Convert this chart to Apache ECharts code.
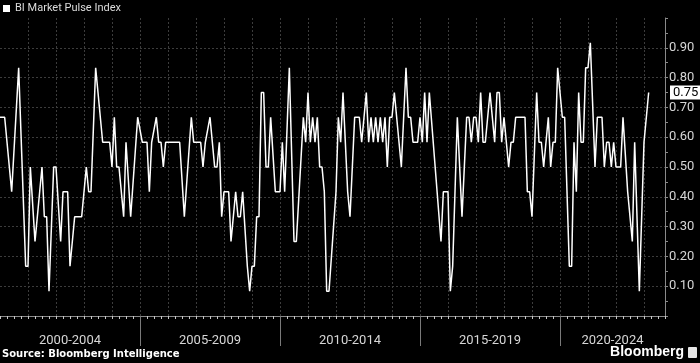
<!DOCTYPE html>
<html><head><meta charset="utf-8">
<script src="https://cdn.jsdelivr.net/npm/echarts@6/dist/echarts.min.js"></script>
<style>html,body{margin:0;padding:0;background:#000;}#c{width:700px;height:363px;}</style>
</head><body><div id="c"></div>
<script>
const seriesName = 'BI Market Pulse Index';
const dates = [
'2000-01','2000-03','2000-06','2000-09','2000-12','2001-01','2001-02','2001-04','2001-07','2001-08','2001-09','2001-10','2001-12',
'2002-01','2002-03','2002-04','2002-06','2002-07','2002-09','2002-12','2003-02','2003-03','2003-04','2003-06','2003-09','2003-12',
'2004-01','2004-02','2004-03','2004-04','2004-06','2004-07','2004-09','2004-12','2005-02','2005-04','2005-05','2005-06','2005-08',
'2005-09','2005-10','2005-11','2005-12','2006-06','2006-08','2006-11','2006-12','2007-03','2007-04','2007-05','2007-07','2007-09',
'2007-10','2007-11','2007-12','2008-01','2008-03','2008-04','2008-06','2008-07','2008-08','2008-09','2008-11','2008-12','2009-01',
'2009-02','2009-03','2009-04','2009-05','2009-06','2009-07','2009-08','2009-09','2009-11','2010-01','2010-02','2010-03','2010-05',
'2010-07','2010-08','2010-11','2010-12','2011-01','2011-02','2011-03','2011-04','2011-05','2011-06','2011-07','2011-08','2011-09',
'2011-10','2012-01','2012-02','2012-03','2012-04','2012-06','2012-07','2012-09','2012-11','2012-12','2013-02','2013-03','2013-04',
'2013-05','2013-06','2013-07','2013-08','2013-09','2013-10','2013-11','2013-12','2014-01','2014-02','2014-05','2014-07','2014-08',
'2014-09','2014-10','2014-12','2015-01','2015-02','2015-03','2015-04','2015-05','2015-10','2015-11','2016-01','2016-02','2016-03',
'2016-05','2016-07','2016-09','2016-10','2016-11','2016-12','2017-01','2017-02','2017-03','2017-04','2017-05','2017-07','2017-09',
'2017-10','2017-11','2017-12','2018-01','2018-03','2018-04','2018-05','2018-06','2018-10','2018-11','2018-12','2019-01','2019-03',
'2019-04','2019-05','2019-06','2019-08','2019-09','2019-10','2019-11','2019-12','2020-02','2020-03','2020-05','2020-06','2020-07',
'2020-08','2020-09','2020-10','2020-11','2020-12','2021-01','2021-02','2021-04','2021-05','2021-07','2021-08','2021-09','2021-10',
'2021-11','2021-12','2022-01','2022-03','2022-04','2022-06','2022-08','2022-09','2022-11','2023-01','2023-03'
];
const values = [
0.667,0.667,0.417,0.833,0.167,0.167,0.5,0.25,0.5,0.333,0.333,0.083,0.5,
0.5,0.25,0.417,0.417,0.167,0.333,0.333,0.5,0.417,0.417,0.833,0.583,0.583,
0.5,0.667,0.5,0.5,0.333,0.583,0.333,0.667,0.583,0.583,0.417,0.583,0.667,
0.583,0.583,0.5,0.583,0.583,0.333,0.667,0.583,0.583,0.5,0.583,0.667,0.5,
0.5,0.583,0.333,0.417,0.417,0.25,0.417,0.333,0.333,0.417,0.167,0.083,0.167,
0.167,0.333,0.333,0.75,0.75,0.5,0.5,0.667,0.417,0.417,0.583,0.417,0.833,
0.25,0.25,0.667,0.583,0.75,0.583,0.667,0.583,0.667,0.5,0.5,0.417,0.083,
0.083,0.417,0.667,0.583,0.75,0.417,0.333,0.667,0.667,0.583,0.75,0.583,0.667,
0.583,0.667,0.583,0.667,0.583,0.667,0.5,0.667,0.667,0.75,0.5,0.833,0.667,
0.667,0.583,0.583,0.667,0.583,0.75,0.583,0.75,0.25,0.417,0.417,0.083,0.167,
0.667,0.333,0.667,0.667,0.583,0.667,0.667,0.583,0.75,0.583,0.583,0.75,0.583,
0.75,0.75,0.583,0.667,0.5,0.583,0.583,0.667,0.667,0.417,0.417,0.333,0.75,
0.583,0.583,0.5,0.667,0.5,0.583,0.583,0.833,0.667,0.667,0.167,0.167,0.583,
0.417,0.75,0.583,0.583,0.833,0.833,0.917,0.5,0.667,0.667,0.5,0.583,0.583,
0.5,0.583,0.5,0.5,0.667,0.417,0.25,0.583,0.083,0.583,0.75
];
const periodLabels = ['2000-2004','2005-2009','2010-2014','2015-2019','2020-2024'];
const periodStarts = [2000, 2005, 2010, 2015, 2020];
const yLabelValues = [0.1,0.2,0.3,0.4,0.5,0.6,0.7,0.8,0.9];
const axisStart = 2000, axisEnd = 2023.75;

const toYear = d => { const [y, m] = d.split('-').map(Number); return y + (m - 1) / 12; };
const seriesData = dates.map((d, i) => [toYear(d), values[i]]);
const bandLabelPos = periodStarts.map(s => (s + Math.min(s + 5, axisEnd)) / 2);
const lastValue = values[values.length - 1];

const chart = echarts.init(document.getElementById('c'), null, {renderer: 'canvas'});
chart.setOption({
  backgroundColor: '#000',
  animation: false,
  grid: {left: 0, right: 35, top: 18, bottom: 47},
  legend: {
    left: 3, top: 3, padding: 0, icon: 'rect', itemWidth: 7, itemHeight: 7,
    textStyle: {color: '#dcdcdc', fontSize: 11, fontFamily: 'Roboto'},
    data: [seriesName]
  },
  xAxis: [{
    type: 'value', min: axisStart, max: axisEnd, interval: 1, position: 'bottom',
    axisLine: {show: true, lineStyle: {color: '#8a8a8a', width: 1}},
    axisTick: {show: true, length: 3, lineStyle: {color: '#c8c8c8'}},
    minorTick: {show: true, splitNumber: 4, length: 3, lineStyle: {color: '#c8c8c8'}},
    axisLabel: {show: false},
    splitLine: {show: true, showMinLine: false, showMaxLine: false, lineStyle: {color: '#3c3c3c', type: [2, 2]}}
  }, {
    type: 'value', min: axisStart, max: axisEnd, position: 'bottom',
    axisLine: {show: false},
    axisTick: {show: true, customValues: periodStarts.slice(1), length: 30, lineStyle: {color: '#7a7a7a'}},
    axisLabel: {
      show: true, customValues: bandLabelPos, margin: 18, color: '#d6d6d6', fontSize: 13, fontFamily: 'Roboto',
      formatter: v => { const i = bandLabelPos.findIndex(p => Math.abs(p - v) < 1e-6); return i >= 0 ? periodLabels[i] : ''; }
    },
    splitLine: {show: false}
  }],
  yAxis: {
    type: 'value', position: 'right', min: 0, max: 1, interval: 0.1,
    axisLine: {show: true, lineStyle: {color: '#8a8a8a'}},
    axisTick: {show: true, length: 3, lineStyle: {color: '#8a8a8a'}},
    minorTick: {show: true, splitNumber: 2, length: 3, lineStyle: {color: '#8a8a8a'}},
    axisLabel: {customValues: yLabelValues, margin: 4, color: '#d6d6d6', fontSize: 13, fontFamily: 'Roboto',
      formatter: v => v.toFixed(2)},
    splitLine: {show: true, showMinLine: false, showMaxLine: false, lineStyle: {color: '#3c3c3c', type: [2, 2]}}
  },
  series: [{
    name: seriesName, type: 'line', xAxisIndex: 0, data: seriesData,
    symbol: 'none', lineStyle: {color: '#ffffff', width: 1.5}, itemStyle: {color: '#ffffff'},
    markLine: {
      silent: true, symbol: 'none', animation: false,
      lineStyle: {width: 0, color: 'rgba(0,0,0,0)'},
      label: {show: true, position: 'end', distance: 5, formatter: () => lastValue.toFixed(2),
        backgroundColor: '#ffffff', color: '#000', fontSize: 13, fontFamily: 'Roboto', padding: [1, 3, 0, 3]},
      data: [{yAxis: lastValue}]
    }
  }],
  graphic: [
    {type: 'text', left: 2, top: 349, style: {text: 'Source: Bloomberg Intelligence', fill: '#ffffff', font: 'bold 10px "DejaVu Sans"'}},
    {type: 'text', right: 16, top: 345, style: {text: 'Bloomberg', fill: '#ffffff', font: 'bold 14px "Liberation Sans"'}},
    {type: 'rect', right: 3, top: 347, shape: {width: 9, height: 11, r: 1}, style: {fill: '#e6e6e6'}}
  ]
});
</script></body></html>
